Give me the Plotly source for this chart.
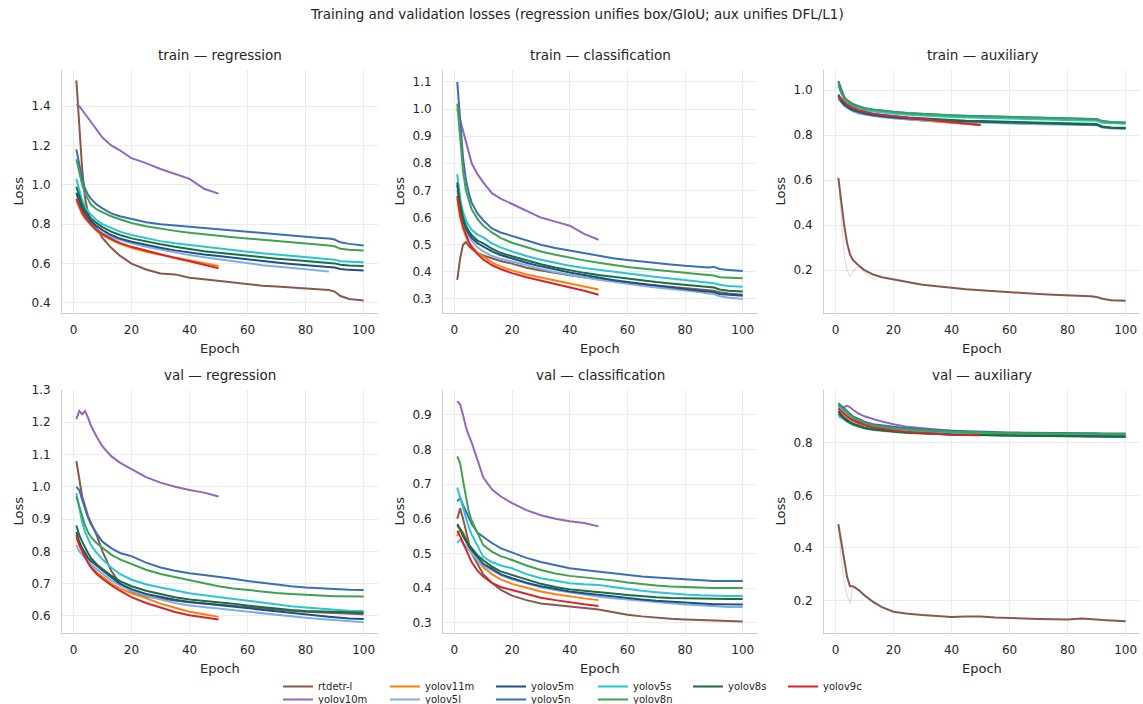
import plotly.graph_objects as go

# ---------------- data ----------------
EPOCHS = [1, 2, 3, 4, 5, 6, 8, 10, 13, 16, 20, 25, 30, 35, 40, 45, 50,
          55, 60, 65, 70, 75, 80, 85, 88, 90, 92, 95, 100]

MODELS = ["rtdetr-l", "yolov10m", "yolov11m", "yolov5l", "yolov5m",
          "yolov5n", "yolov5s", "yolov8n", "yolov8s", "yolov9c"]

COLORS = {
    "rtdetr-l": "#8c564b",
    "yolov10m": "#9467bd",
    "yolov11m": "#ff7f0e",
    "yolov5l": "#7fb0dd",
    "yolov5m": "#1f4e8c",
    "yolov5n": "#3a6fb5",
    "yolov5s": "#2bc4d6",
    "yolov8n": "#3fa34d",
    "yolov8s": "#17703a",
    "yolov9c": "#d62728",
}

train_regression = {
    "rtdetr-l": [1.53, 1.30, 1.08, 0.93, 0.86, 0.82, 0.78, 0.73, 0.68, 0.64, 0.60, 0.57, 0.55, 0.545, 0.528, 0.52, 0.512, 0.503, 0.495, 0.488, 0.483, 0.478, 0.474, 0.47, 0.466, 0.458, 0.435, 0.42, 0.413],
    "yolov10m": [1.41, 1.40, 1.38, 1.36, 1.34, 1.32, 1.28, 1.24, 1.20, 1.175, 1.135, 1.11, 1.08, 1.055, 1.03, 0.98, 0.955],
    "yolov11m": [0.92, 0.88, 0.85, 0.83, 0.81, 0.795, 0.765, 0.745, 0.72, 0.70, 0.68, 0.66, 0.645, 0.63, 0.615, 0.60, 0.588],
    "yolov5l": [0.95, 0.91, 0.87, 0.84, 0.82, 0.80, 0.775, 0.755, 0.735, 0.72, 0.703, 0.685, 0.67, 0.655, 0.643, 0.632, 0.622, 0.612, 0.60, 0.592, 0.585, 0.578, 0.572, 0.565, 0.56],
    "yolov5m": [0.96, 0.92, 0.88, 0.855, 0.835, 0.815, 0.79, 0.77, 0.745, 0.727, 0.711, 0.695, 0.68, 0.667, 0.656, 0.646, 0.638, 0.629, 0.62, 0.612, 0.605, 0.598, 0.592, 0.586, 0.583, 0.58, 0.573, 0.568, 0.565],
    "yolov5n": [1.18, 1.10, 1.03, 0.98, 0.95, 0.93, 0.90, 0.88, 0.855, 0.84, 0.825, 0.81, 0.80, 0.793, 0.787, 0.78, 0.774, 0.768, 0.762, 0.755, 0.749, 0.743, 0.736, 0.73, 0.727, 0.722, 0.708, 0.70, 0.692],
    "yolov5s": [1.03, 0.97, 0.92, 0.89, 0.865, 0.85, 0.82, 0.80, 0.78, 0.762, 0.745, 0.728, 0.714, 0.703, 0.694, 0.685, 0.677, 0.669, 0.66, 0.653, 0.646, 0.64, 0.634, 0.627, 0.624, 0.62, 0.612, 0.61, 0.607],
    "yolov8n": [1.13, 1.06, 1.00, 0.955, 0.925, 0.90, 0.875, 0.86, 0.84, 0.825, 0.806, 0.79, 0.777, 0.766, 0.757, 0.748, 0.741, 0.734, 0.728, 0.721, 0.714, 0.708, 0.701, 0.695, 0.692, 0.688, 0.675, 0.67, 0.666],
    "yolov8s": [0.99, 0.94, 0.90, 0.87, 0.85, 0.83, 0.805, 0.785, 0.762, 0.745, 0.728, 0.712, 0.698, 0.685, 0.673, 0.663, 0.655, 0.647, 0.639, 0.632, 0.625, 0.619, 0.613, 0.607, 0.604, 0.601, 0.594, 0.59, 0.588],
    "yolov9c": [0.93, 0.89, 0.86, 0.835, 0.815, 0.80, 0.77, 0.75, 0.725, 0.705, 0.685, 0.665, 0.645, 0.628, 0.612, 0.595, 0.576],
}

train_classification = {
    "rtdetr-l": [0.37, 0.45, 0.50, 0.51, 0.495, 0.485, 0.47, 0.46, 0.45, 0.44, 0.43, 0.415, 0.405, 0.395, 0.387, 0.38, 0.373, 0.366, 0.36, 0.354, 0.349, 0.344, 0.34, 0.335, 0.332, 0.33, 0.325, 0.32, 0.315],
    "yolov10m": [1.00, 0.96, 0.92, 0.87, 0.83, 0.80, 0.76, 0.73, 0.69, 0.67, 0.65, 0.625, 0.60, 0.585, 0.57, 0.54, 0.518],
    "yolov11m": [0.67, 0.60, 0.56, 0.53, 0.51, 0.495, 0.47, 0.455, 0.435, 0.42, 0.405, 0.39, 0.378, 0.368, 0.357, 0.345, 0.335],
    "yolov5l": [0.70, 0.63, 0.58, 0.55, 0.53, 0.515, 0.49, 0.475, 0.458, 0.448, 0.438, 0.423, 0.41, 0.398, 0.388, 0.379, 0.371, 0.363, 0.355, 0.348, 0.342, 0.337, 0.332, 0.325, 0.32, 0.318, 0.31, 0.305, 0.30],
    "yolov5m": [0.72, 0.64, 0.59, 0.56, 0.54, 0.525, 0.505, 0.492, 0.475, 0.462, 0.448, 0.433, 0.42, 0.408, 0.397, 0.388, 0.378, 0.37, 0.362, 0.355, 0.348, 0.342, 0.336, 0.33, 0.327, 0.325, 0.318, 0.315, 0.312],
    "yolov5n": [1.10, 0.95, 0.82, 0.74, 0.69, 0.655, 0.615, 0.59, 0.56, 0.545, 0.532, 0.515, 0.50, 0.488, 0.478, 0.468, 0.458, 0.45, 0.443, 0.437, 0.432, 0.427, 0.422, 0.418, 0.416, 0.418, 0.41, 0.407, 0.403],
    "yolov5s": [0.76, 0.67, 0.62, 0.59, 0.57, 0.555, 0.537, 0.527, 0.505, 0.49, 0.475, 0.458, 0.444, 0.432, 0.422, 0.414, 0.407, 0.40, 0.393, 0.387, 0.381, 0.375, 0.369, 0.363, 0.36, 0.358, 0.352, 0.348, 0.345],
    "yolov8n": [1.02, 0.88, 0.77, 0.70, 0.66, 0.63, 0.595, 0.57, 0.545, 0.525, 0.507, 0.49, 0.475, 0.463, 0.452, 0.442, 0.433, 0.425, 0.418, 0.412, 0.406, 0.401, 0.396, 0.391, 0.388, 0.386, 0.38, 0.378, 0.376],
    "yolov8s": [0.73, 0.65, 0.60, 0.57, 0.55, 0.535, 0.515, 0.505, 0.485, 0.47, 0.457, 0.442, 0.428, 0.416, 0.405, 0.396, 0.388, 0.381, 0.374, 0.368, 0.362, 0.357, 0.352, 0.347, 0.344, 0.342, 0.335, 0.33, 0.327],
    "yolov9c": [0.68, 0.61, 0.565, 0.535, 0.51, 0.49, 0.465, 0.445, 0.425, 0.41, 0.395, 0.38, 0.368, 0.355, 0.343, 0.33, 0.315],
}

train_auxiliary = {
    "rtdetr-l": [0.61, 0.50, 0.40, 0.32, 0.27, 0.245, 0.22, 0.20, 0.18, 0.168, 0.158, 0.145, 0.135, 0.128, 0.12, 0.115, 0.11, 0.105, 0.1, 0.096, 0.093, 0.09, 0.088, 0.085, 0.083, 0.08, 0.072, 0.066, 0.064],
    "yolov10m": [0.96, 0.945, 0.933, 0.924, 0.917, 0.911, 0.902, 0.895, 0.888, 0.882, 0.876, 0.87, 0.865, 0.86, 0.856, 0.85, 0.846],
    "yolov11m": [0.965, 0.95, 0.937, 0.928, 0.92, 0.914, 0.905, 0.898, 0.89, 0.884, 0.878, 0.871, 0.865, 0.86, 0.855, 0.848, 0.845],
    "yolov5l": [0.965, 0.945, 0.93, 0.92, 0.912, 0.905, 0.896, 0.89, 0.884, 0.879, 0.874, 0.869, 0.865, 0.862, 0.859, 0.857, 0.855, 0.853, 0.851, 0.849, 0.848, 0.847, 0.846, 0.845, 0.844, 0.843, 0.833, 0.829, 0.827],
    "yolov5m": [0.975, 0.95, 0.935, 0.925, 0.917, 0.91, 0.901, 0.895, 0.888, 0.883, 0.878, 0.873, 0.869, 0.866, 0.863, 0.861, 0.859, 0.857, 0.855, 0.853, 0.852, 0.85, 0.849, 0.848, 0.847, 0.846, 0.836, 0.832, 0.83],
    "yolov5n": [1.04, 1.00, 0.97, 0.955, 0.945, 0.938, 0.928, 0.92, 0.913, 0.908, 0.903, 0.898, 0.894, 0.891, 0.888, 0.886, 0.884, 0.882, 0.88, 0.878, 0.877, 0.875, 0.874, 0.873, 0.872, 0.871, 0.862, 0.858, 0.856],
    "yolov5s": [1.02, 0.985, 0.96, 0.945, 0.935, 0.927, 0.918, 0.911, 0.905, 0.90, 0.895, 0.89, 0.886, 0.883, 0.88, 0.878, 0.876, 0.874, 0.872, 0.87, 0.869, 0.868, 0.866, 0.865, 0.864, 0.863, 0.855, 0.852, 0.85],
    "yolov8n": [1.03, 0.99, 0.965, 0.95, 0.94, 0.933, 0.924, 0.918, 0.912, 0.907, 0.902, 0.897, 0.893, 0.89, 0.887, 0.885, 0.883, 0.881, 0.879, 0.877, 0.876, 0.874, 0.873, 0.872, 0.871, 0.87, 0.861, 0.857, 0.855],
    "yolov8s": [0.98, 0.955, 0.94, 0.93, 0.922, 0.915, 0.906, 0.90, 0.893, 0.888, 0.883, 0.878, 0.874, 0.87, 0.867, 0.864, 0.862, 0.86, 0.858, 0.856, 0.855, 0.853, 0.852, 0.851, 0.85, 0.849, 0.838, 0.834, 0.832],
    "yolov9c": [0.975, 0.96, 0.945, 0.935, 0.927, 0.92, 0.91, 0.903, 0.895, 0.889, 0.883, 0.876, 0.87, 0.864, 0.858, 0.852, 0.845],
}

val_regression = {
    "rtdetr-l": [1.08, 1.02, 0.97, 0.94, 0.91, 0.89, 0.85, 0.80, 0.74, 0.70, 0.675, 0.66, 0.655, 0.648, 0.642, 0.638, 0.634, 0.63, 0.626, 0.622, 0.619, 0.616, 0.613, 0.611, 0.61, 0.609, 0.608, 0.607, 0.605],
    "yolov10m": [1.21, 1.235, 1.225, 1.235, 1.215, 1.19, 1.155, 1.125, 1.095, 1.075, 1.055, 1.03, 1.013, 1.0, 0.99, 0.982, 0.97],
    "yolov11m": [0.84, 0.82, 0.80, 0.785, 0.77, 0.755, 0.735, 0.72, 0.70, 0.685, 0.67, 0.655, 0.638, 0.625, 0.613, 0.605, 0.597],
    "yolov5l": [0.82, 0.80, 0.79, 0.78, 0.77, 0.76, 0.745, 0.73, 0.71, 0.695, 0.678, 0.662, 0.65, 0.64, 0.632, 0.627, 0.622, 0.617, 0.612, 0.607, 0.602, 0.598, 0.594, 0.59, 0.588, 0.586, 0.585, 0.583, 0.58],
    "yolov5m": [0.86, 0.83, 0.81, 0.795, 0.78, 0.77, 0.755, 0.74, 0.72, 0.70, 0.683, 0.668, 0.658, 0.65, 0.643, 0.638, 0.634, 0.628, 0.623, 0.618, 0.613, 0.608, 0.604, 0.60, 0.597, 0.596, 0.594, 0.592, 0.59],
    "yolov5n": [1.00, 0.99, 0.96, 0.93, 0.905, 0.885, 0.855, 0.83, 0.81, 0.795, 0.785, 0.765, 0.75, 0.74, 0.732, 0.727, 0.722, 0.715, 0.708, 0.702, 0.697, 0.692, 0.688, 0.685, 0.683, 0.682, 0.681, 0.681, 0.68],
    "yolov5s": [0.98, 0.93, 0.89, 0.86, 0.84, 0.82, 0.795, 0.775, 0.75, 0.73, 0.712, 0.698, 0.688, 0.678, 0.67, 0.664, 0.658, 0.652, 0.646, 0.64, 0.635, 0.63, 0.626, 0.622, 0.62, 0.619, 0.618, 0.616, 0.615],
    "yolov8n": [0.97, 0.94, 0.91, 0.88, 0.86, 0.845, 0.825, 0.81, 0.79, 0.775, 0.76, 0.743, 0.73, 0.72, 0.71, 0.70, 0.692, 0.685, 0.68, 0.675, 0.671, 0.668, 0.665, 0.663, 0.662, 0.661, 0.661, 0.66, 0.66],
    "yolov8s": [0.88, 0.85, 0.83, 0.81, 0.795, 0.78, 0.76, 0.745, 0.725, 0.708, 0.692, 0.678, 0.667, 0.658, 0.651, 0.647, 0.644, 0.638, 0.632, 0.627, 0.622, 0.618, 0.615, 0.613, 0.612, 0.612, 0.611, 0.611, 0.61],
    "yolov9c": [0.85, 0.82, 0.80, 0.78, 0.765, 0.75, 0.73, 0.715, 0.695, 0.678, 0.658, 0.64, 0.625, 0.612, 0.602, 0.595, 0.589],
}

val_classification = {
    "rtdetr-l": [0.60, 0.63, 0.60, 0.56, 0.53, 0.50, 0.47, 0.44, 0.415, 0.395, 0.378, 0.365, 0.355, 0.35, 0.345, 0.342, 0.338, 0.33, 0.323, 0.318, 0.314, 0.311, 0.309, 0.307, 0.306, 0.305, 0.305, 0.304, 0.303],
    "yolov10m": [0.94, 0.93, 0.90, 0.865, 0.84, 0.82, 0.77, 0.72, 0.685, 0.665, 0.645, 0.625, 0.61, 0.60, 0.593, 0.588, 0.578],
    "yolov11m": [0.55, 0.57, 0.56, 0.54, 0.52, 0.505, 0.48, 0.46, 0.44, 0.425, 0.412, 0.40, 0.39, 0.382, 0.375, 0.37, 0.365],
    "yolov5l": [0.53, 0.54, 0.53, 0.52, 0.51, 0.50, 0.48, 0.465, 0.45, 0.437, 0.425, 0.413, 0.402, 0.394, 0.387, 0.381, 0.375, 0.37, 0.366, 0.362, 0.358, 0.355, 0.352, 0.35, 0.348, 0.347, 0.346, 0.345, 0.345],
    "yolov5m": [0.585, 0.57, 0.55, 0.535, 0.52, 0.51, 0.49, 0.47, 0.455, 0.44, 0.428, 0.415, 0.405, 0.397, 0.39, 0.385, 0.38, 0.375, 0.371, 0.367, 0.363, 0.36, 0.357, 0.355, 0.354, 0.353, 0.353, 0.352, 0.352],
    "yolov5n": [0.65, 0.66, 0.64, 0.62, 0.60, 0.585, 0.56, 0.548, 0.53, 0.515, 0.502, 0.487, 0.475, 0.465, 0.457, 0.452, 0.447, 0.442, 0.437, 0.433, 0.43, 0.427, 0.424, 0.422, 0.421, 0.42, 0.42, 0.42, 0.42],
    "yolov5s": [0.69, 0.66, 0.63, 0.60, 0.575, 0.555, 0.52, 0.49, 0.475, 0.465, 0.457, 0.44, 0.428, 0.42, 0.414, 0.411, 0.409, 0.403, 0.397, 0.392, 0.388, 0.384, 0.381, 0.379, 0.378, 0.377, 0.377, 0.377, 0.377],
    "yolov8n": [0.78, 0.76, 0.71, 0.66, 0.62, 0.595, 0.56, 0.524, 0.505, 0.492, 0.481, 0.465, 0.452, 0.442, 0.435, 0.431, 0.428, 0.422, 0.416, 0.411, 0.407, 0.404, 0.402, 0.401, 0.40, 0.40, 0.40, 0.40, 0.40],
    "yolov8s": [0.58, 0.57, 0.555, 0.54, 0.525, 0.515, 0.495, 0.48, 0.462, 0.448, 0.438, 0.424, 0.412, 0.403, 0.396, 0.392, 0.389, 0.384, 0.38, 0.376, 0.373, 0.371, 0.37, 0.369, 0.368, 0.368, 0.368, 0.368, 0.368],
    "yolov9c": [0.565, 0.55, 0.53, 0.51, 0.49, 0.475, 0.45, 0.433, 0.415, 0.403, 0.394, 0.382, 0.372, 0.365, 0.358, 0.353, 0.348],
}

val_auxiliary = {
    "rtdetr-l": [0.49, 0.42, 0.35, 0.29, 0.255, 0.255, 0.24, 0.22, 0.195, 0.175, 0.158, 0.15, 0.145, 0.142, 0.138, 0.14, 0.14, 0.136, 0.133, 0.132, 0.13, 0.129, 0.128, 0.132, 0.131, 0.128, 0.126, 0.124, 0.122],
    "yolov10m": [0.93, 0.935, 0.935, 0.94, 0.935, 0.925, 0.91, 0.90, 0.89, 0.88, 0.87, 0.86, 0.855, 0.85, 0.845, 0.84, 0.838],
    "yolov11m": [0.92, 0.912, 0.903, 0.895, 0.888, 0.882, 0.872, 0.865, 0.857, 0.851, 0.846, 0.841, 0.837, 0.834, 0.832, 0.83, 0.829],
    "yolov5l": [0.90, 0.895, 0.887, 0.88, 0.874, 0.868, 0.86, 0.854, 0.848, 0.844, 0.84, 0.837, 0.834, 0.832, 0.83, 0.829, 0.828, 0.827, 0.826, 0.825, 0.825, 0.824, 0.824, 0.823, 0.823, 0.823, 0.822, 0.822, 0.822],
    "yolov5m": [0.92, 0.905, 0.895, 0.885, 0.878, 0.872, 0.863, 0.857, 0.851, 0.847, 0.843, 0.839, 0.836, 0.834, 0.832, 0.83, 0.829, 0.828, 0.827, 0.826, 0.825, 0.825, 0.824, 0.824, 0.823, 0.823, 0.823, 0.822, 0.822],
    "yolov5n": [0.95, 0.94, 0.93, 0.92, 0.91, 0.90, 0.89, 0.88, 0.87, 0.865, 0.86, 0.855, 0.85, 0.847, 0.845, 0.843, 0.842, 0.84, 0.839, 0.838, 0.838, 0.837, 0.837, 0.836, 0.836, 0.836, 0.835, 0.835, 0.835],
    "yolov5s": [0.94, 0.93, 0.92, 0.91, 0.90, 0.892, 0.88, 0.872, 0.863, 0.857, 0.852, 0.847, 0.843, 0.84, 0.838, 0.836, 0.835, 0.834, 0.833, 0.832, 0.832, 0.831, 0.831, 0.831, 0.83, 0.83, 0.83, 0.83, 0.83],
    "yolov8n": [0.945, 0.935, 0.925, 0.915, 0.905, 0.897, 0.885, 0.875, 0.866, 0.86, 0.855, 0.85, 0.846, 0.843, 0.841, 0.839, 0.838, 0.837, 0.836, 0.835, 0.835, 0.834, 0.834, 0.834, 0.833, 0.833, 0.833, 0.833, 0.833],
    "yolov8s": [0.91, 0.90, 0.89, 0.882, 0.876, 0.87, 0.862, 0.856, 0.85, 0.846, 0.842, 0.838, 0.835, 0.833, 0.831, 0.83, 0.829, 0.828, 0.827, 0.826, 0.826, 0.825, 0.825, 0.825, 0.824, 0.824, 0.824, 0.824, 0.824],
    "yolov9c": [0.93, 0.92, 0.91, 0.90, 0.892, 0.885, 0.875, 0.867, 0.858, 0.852, 0.846, 0.84, 0.836, 0.833, 0.83, 0.829, 0.828],
}

# faint raw (unsmoothed) curves visible in the first epochs of the rtdetr-l auxiliary loss
RAW_EPOCHS = [1, 2, 3, 4, 5, 6, 7, 8, 9, 10, 12, 14]
raw_train_aux_rtdetr = [0.61, 0.42, 0.27, 0.20, 0.17, 0.19, 0.21, 0.215, 0.20, 0.19, 0.17, 0.155]
raw_val_aux_rtdetr = [0.49, 0.36, 0.27, 0.22, 0.19, 0.25, 0.255, 0.24, 0.23, 0.215, 0.20, 0.18]

PANELS = [
    ("train — regression", train_regression, [0.349, 1.583], [0.4, 0.6, 0.8, 1.0, 1.2, 1.4]),
    ("train — classification", train_classification, [0.248, 1.144], [0.3, 0.4, 0.5, 0.6, 0.7, 0.8, 0.9, 1.0, 1.1]),
    ("train — auxiliary", train_auxiliary, [0.009, 1.089], [0.2, 0.4, 0.6, 0.8, 1.0]),
    ("val — regression", val_regression, [0.547, 1.300], [0.6, 0.7, 0.8, 0.9, 1.0, 1.1, 1.2, 1.3]),
    ("val — classification", val_classification, [0.270, 0.972], [0.3, 0.4, 0.5, 0.6, 0.7, 0.8, 0.9]),
    ("val — auxiliary", val_auxiliary, [0.077, 1.000], [0.2, 0.4, 0.6, 0.8]),
]
RAW_BY_PANEL = {2: raw_train_aux_rtdetr, 5: raw_val_aux_rtdetr}
X_TICKS = [0, 20, 40, 60, 80, 100]

# legend grid (matplotlib-style column-major layout, 6 columns x 2 rows)
LEGEND_COLUMNS = [
    ["rtdetr-l", "yolov10m"],
    ["yolov11m", "yolov5l"],
    ["yolov5m", "yolov5n"],
    ["yolov5s", "yolov8n"],
    ["yolov8s"],
    ["yolov9c"],
]
LEGEND_COL_X = [285, 392, 498, 600, 695, 790]
LEGEND_ROW_Y = [672, 685]

# ---------------- layout geometry ----------------
W, H = 1143, 704
COLS_PX = [(62, 378), (443, 757), (824, 1140)]
ROWS_PX = [(70, 313), (390, 633)]

FONT = "DejaVu Sans"
TXT = "#262626"
GRID = "#ececec"
SPINE = "#cfcfcf"

fig = go.Figure()
annotations = []

# one legend box per legend cell
legend_of = {}
legends = {}
k = 0
for ci, col in enumerate(LEGEND_COLUMNS):
    for ri, m in enumerate(col):
        key = "legend" if k == 0 else f"legend{k + 1}"
        legend_of[m] = key
        legends[key] = dict(orientation="v", xanchor="left", yanchor="top",
                            x=(LEGEND_COL_X[ci] - 7) / W, y=1 - LEGEND_ROW_Y[ri] / H,
                            font=dict(family=FONT, size=10, color=TXT),
                            bgcolor="rgba(0,0,0,0)", itemwidth=30)
        k += 1

for i, (title, data, yr, yt) in enumerate(PANELS):
    r, c = divmod(i, 3)
    n = i + 1
    xa = "x" if n == 1 else f"x{n}"
    ya = "y" if n == 1 else f"y{n}"
    x0, x1 = COLS_PX[c]
    top, bot = ROWS_PX[r]
    xdom = [x0 / W, x1 / W]
    ydom = [1 - bot / H, 1 - top / H]
    axis_common = dict(showgrid=True, gridcolor=GRID, gridwidth=1, zeroline=False,
                       showline=True, linecolor=SPINE, linewidth=1, ticks="",
                       tickfont=dict(family=FONT, size=12, color=TXT))
    fig.update_layout(**{
        ("xaxis" if n == 1 else f"xaxis{n}"): dict(domain=xdom, anchor=ya, range=[-3.95, 104.95],
                                                   tickvals=X_TICKS, ticklabelstandoff=6, **axis_common),
        ("yaxis" if n == 1 else f"yaxis{n}"): dict(domain=ydom, anchor=xa, range=yr, tickvals=yt,
                                                   tickformat=".1f", ticklabelstandoff=8, **axis_common),
    })
    if i in RAW_BY_PANEL:
        fig.add_trace(go.Scatter(
            x=RAW_EPOCHS, y=RAW_BY_PANEL[i], mode="lines",
            line=dict(color=COLORS["rtdetr-l"], width=1), opacity=0.25,
            xaxis=xa, yaxis=ya, showlegend=False, hoverinfo="skip",
        ))
    for m in MODELS:
        vals = data[m]
        ep = EPOCHS[:len(vals)]
        fig.add_trace(go.Scatter(
            x=ep, y=vals, mode="lines", name=m,
            line=dict(color=COLORS[m], width=2),
            xaxis=xa, yaxis=ya, showlegend=(i == 0), legend=legend_of[m],
            hoverinfo="skip",
        ))
    annotations.append(dict(text=title, x=(x0 + x1) / 2 / W, y=1 - (top - 15) / H,
                            xref="paper", yref="paper", showarrow=False, xanchor="center",
                            yanchor="middle", font=dict(family=FONT, size=13.5, color=TXT)))
    annotations.append(dict(text="Epoch", x=(x0 + x1) / 2 / W, y=1 - (bot + 35) / H,
                            xref="paper", yref="paper", showarrow=False, xanchor="center",
                            yanchor="middle", font=dict(family=FONT, size=13, color=TXT)))
    annotations.append(dict(text="Loss", x=(x0 - 44) / W, y=1 - (top + bot) / 2 / H,
                            xref="paper", yref="paper", showarrow=False, xanchor="center",
                            yanchor="middle", textangle=-90,
                            font=dict(family=FONT, size=13, color=TXT)))

annotations.append(dict(text="Training and validation losses (regression unifies box/GIoU; aux unifies DFL/L1)",
                        x=0.505, y=1 - 14 / H, xref="paper", yref="paper", showarrow=False,
                        xanchor="center", yanchor="middle", font=dict(family=FONT, size=13.5, color=TXT)))

fig.update_layout(
    width=W, height=H,
    margin=dict(l=0, r=0, t=0, b=0, autoexpand=False),
    paper_bgcolor="white", plot_bgcolor="white",
    font=dict(family=FONT, color=TXT),
    annotations=annotations,
    **legends,
)

fig.write_html("out.html")
